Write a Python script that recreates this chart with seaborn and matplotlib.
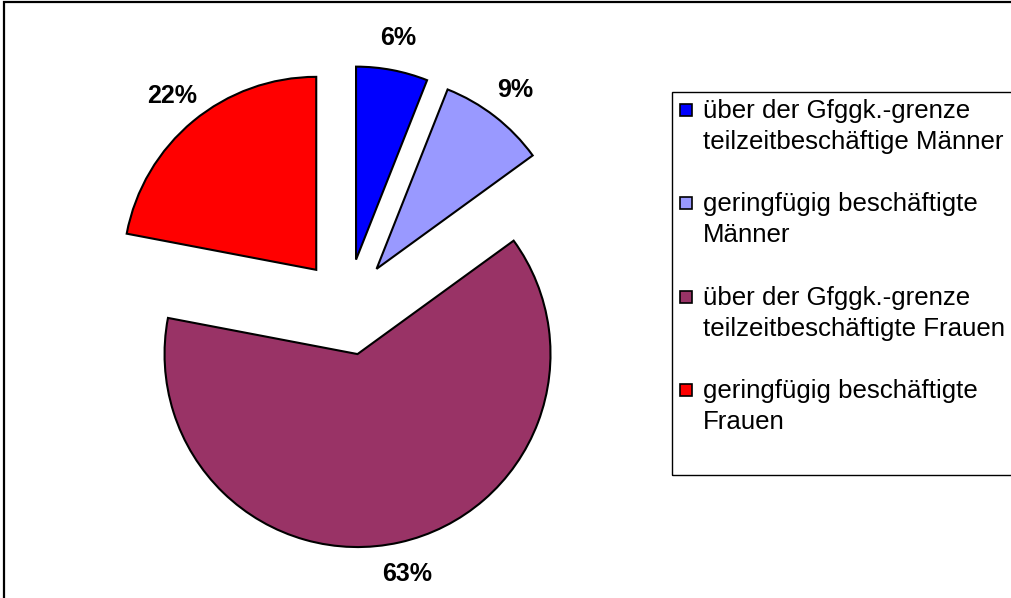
import matplotlib

matplotlib.use("Agg")
import matplotlib.pyplot as plt
import seaborn as sns
from matplotlib.patches import Rectangle

sns.set_theme(style="white")
plt.rcParams["font.family"] = ["Liberation Sans", "DejaVu Sans"]
plt.rcParams["text.color"] = "black"

labels = [
    "über der Gfggk.-grenze\nteilzeitbeschäftige Männer",
    "geringfügig beschäftigte\nMänner",
    "über der Gfggk.-grenze\nteilzeitbeschäftigte Frauen",
    "geringfügig beschäftigte\nFrauen",
]
shares = [6, 9, 63, 22]
colors = ["#0000FF", "#9999FF", "#993366", "#FF0000"]

W, H = 1011, 598
fig = plt.figure(figsize=(W / 100, H / 100), dpi=100)
fig.patch.set_facecolor("white")

# pie area: center ~ (347, 307) px, radius ~193 px
ax = fig.add_axes([0, 0, 694 / W, 582 / H])
wedges, _, pcts = ax.pie(
    shares,
    colors=colors,
    startangle=90,
    counterclock=False,
    explode=[0.25] * len(shares),
    autopct="%1.0f%%",
    pctdistance=1.17,
    wedgeprops=dict(edgecolor="black", linewidth=1.5),
    textprops=dict(fontsize=18, fontweight="bold", color="black"),
)
ax.set_xlim(-1.798, 1.798)
ax.set_ylim(-1.508, 1.508)
ax.set_aspect("equal")
ax.axis("off")


def fx(px):
    return px / W


def fy(py):
    return 1 - py / H


# legend, drawn by hand so the swatch sits on the first text line
for i, (lab, c) in enumerate(zip(labels, colors)):
    top = 104 + i * 93.3
    fig.patches.append(
        Rectangle((fx(680), fy(top + 12)), 12 / W, 12 / H, transform=fig.transFigure,
                  facecolor=c, edgecolor="black", linewidth=1.2)
    )
    for j, line in enumerate(lab.split("\n")):
        fig.text(fx(703), fy(118 + i * 93.3 + j * 31), line, fontsize=18.6,
                 va="baseline", ha="left", color="black")

fig.patches.append(
    Rectangle((fx(672), fy(475)), 400 / W, 383 / H, transform=fig.transFigure,
              facecolor="none", edgecolor="black", linewidth=1)
)
# outer chart frame (clipped at right and bottom)
fig.patches.append(
    Rectangle((fx(4), -0.05), 1.1, 1 - 2 / H + 0.05, transform=fig.transFigure,
              facecolor="none", edgecolor="black", linewidth=1.6)
)

fig.savefig("out.png", dpi=100)
plt.close(fig)
